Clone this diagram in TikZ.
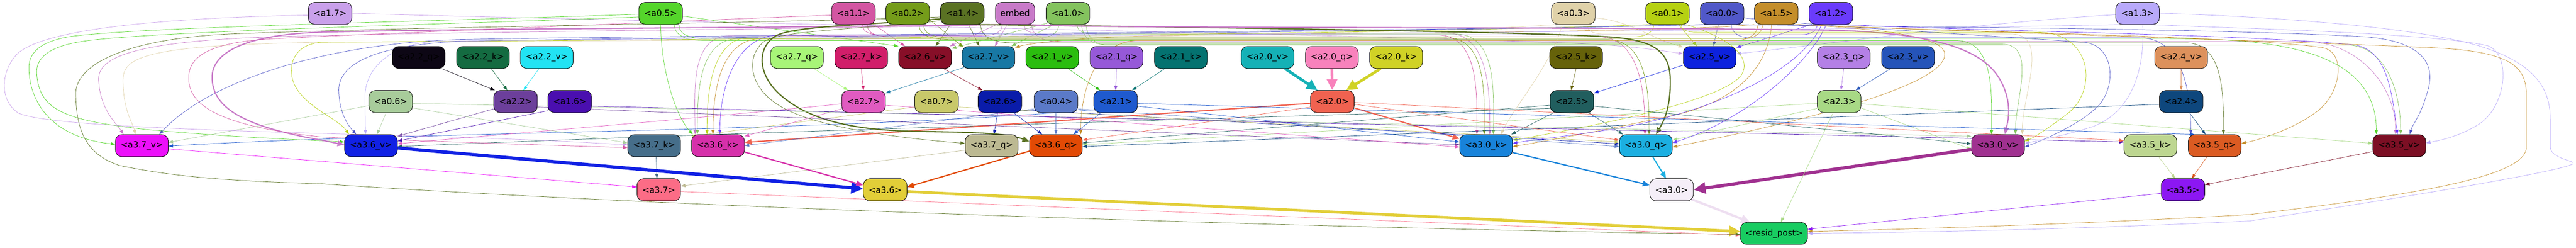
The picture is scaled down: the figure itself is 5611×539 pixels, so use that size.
\documentclass[tikz,border=0pt]{standalone}
\usepackage{fontspec}
\setmainfont{DejaVu Sans}
\usetikzlibrary{arrows.meta}
\pgfdeclarelayer{bg}
\pgfsetlayers{bg,main}
% row 1
\definecolor{a17}{HTML}{C9A0EA}\definecolor{a05}{HTML}{55D52B}\definecolor{a11}{HTML}{D356A2}
\definecolor{a02}{HTML}{759C1A}\definecolor{a14}{HTML}{5A7223}\definecolor{emb}{HTML}{C87AC8}
\definecolor{a10}{HTML}{84C35E}\definecolor{a03}{HTML}{E0D2A9}\definecolor{a01}{HTML}{B6D112}
\definecolor{a00}{HTML}{5158C8}\definecolor{a15}{HTML}{C48E2B}\definecolor{a12}{HTML}{6A3BFB}
\definecolor{a13}{HTML}{B8A9FA}
% row 2
\definecolor{q22}{HTML}{0D0715}\definecolor{k22}{HTML}{146B41}\definecolor{v22}{HTML}{22E3F3}
\definecolor{q27}{HTML}{A8F578}\definecolor{k27}{HTML}{D11E6A}\definecolor{v26}{HTML}{870F28}
\definecolor{v27}{HTML}{1878A4}\definecolor{v21}{HTML}{2BBD0F}\definecolor{q21}{HTML}{9659D8}
\definecolor{k21}{HTML}{047270}\definecolor{v20}{HTML}{15B1B6}\definecolor{q20}{HTML}{F882BC}
\definecolor{k20}{HTML}{D0D226}\definecolor{k25}{HTML}{66620A}\definecolor{v25}{HTML}{0D22DE}
\definecolor{q23}{HTML}{B480E6}\definecolor{v23}{HTML}{2554B9}\definecolor{v24}{HTML}{DD915C}
% row 3
\definecolor{a06}{HTML}{A8CC9B}\definecolor{h22}{HTML}{6C3F9B}\definecolor{a16}{HTML}{4A0FAF}
\definecolor{h27}{HTML}{E05BC0}\definecolor{a07}{HTML}{C8C86A}\definecolor{h26}{HTML}{0A1CAA}
\definecolor{a04}{HTML}{5B7AC8}\definecolor{h21}{HTML}{1F5ACE}\definecolor{h20}{HTML}{F06250}
\definecolor{h25}{HTML}{215E5E}\definecolor{h23}{HTML}{A8D985}\definecolor{h24}{HTML}{0E477D}
% row 4
\definecolor{v37}{HTML}{EC10FA}\definecolor{v36}{HTML}{1121E4}\definecolor{k37}{HTML}{466E8A}
\definecolor{k36}{HTML}{D630AA}\definecolor{q37}{HTML}{BCB992}\definecolor{q36}{HTML}{E24A05}
\definecolor{k30}{HTML}{1883DA}\definecolor{q30}{HTML}{1CAFE1}\definecolor{v30}{HTML}{A03190}
\definecolor{k35}{HTML}{BDD690}\definecolor{q35}{HTML}{DB5B22}\definecolor{v35}{HTML}{7C0F24}
% row 5, 6
\definecolor{h37}{HTML}{FC6C86}\definecolor{h36}{HTML}{E2CE38}\definecolor{h30}{HTML}{F5EEF8}
\definecolor{h30e}{HTML}{EEDFF1}\definecolor{h35}{HTML}{8C17F2}\definecolor{rp}{HTML}{18CC61}
\newcommand\edgeR[6]{\draw[#1] (#2) to[out=-90,in=180] (#3,#4) -- (#5,#4) to[out=0,in=90] (#6);}
\newcommand\edgeL[6]{\draw[#1] (#2) to[out=-90,in=0] (#3,#4) -- (#5,#4) to[out=180,in=90] (#6);}
\begin{document}
\begin{tikzpicture}[x=1pt,y=-1pt,
  nd/.style={draw=black, line width=0.9pt, rounded corners=14pt, minimum height=48pt,
             inner sep=0pt, font=\fontsize{18.5}{20}\selectfont},
  sw/.style={nd, minimum width=95pt},
  lw/.style={nd, minimum width=115pt},
  eA/.style={line width=0.8pt, -{Triangle[length=10pt,width=7pt]}},
  eM/.style={line width=2.6pt, -{Triangle[length=15pt,width=12pt]}},
  eT/.style={line width=6pt, -{Triangle[length=24pt,width=22pt]}},
  eX/.style={line width=7pt, -{Triangle[length=26pt,width=24pt]}}]
\useasboundingbox (0,0) rectangle (5611,539);
% ---------------- nodes
% row 1
\node[sw,fill=a17] (a17) at (719,29) {<a1.7>};
\node[sw,fill=a05] (a05) at (1439,29) {<a0.5>};
\node[sw,fill=a11] (a11) at (1859,29) {<a1.1>};
\node[sw,fill=a02] (a02) at (1977,29) {<a0.2>};
\node[sw,fill=a14] (a14) at (2096,29) {<a1.4>};
\node[nd,minimum width=86pt,fill=emb] (emb) at (2211,29) {embed};
\node[sw,fill=a10] (a10) at (2326,29) {<a1.0>};
\node[sw,fill=a03] (a03) at (3427,29) {<a0.3>};
\node[sw,fill=a01] (a01) at (3632,29) {<a0.1>};
\node[sw,fill=a00] (a00) at (3751,29) {<a0.0>};
\node[sw,fill=a15] (a15) at (3869,29) {<a1.5>};
\node[sw,fill=a12] (a12) at (3988,29) {<a1.2>};
\node[sw,fill=a13] (a13) at (4656,29) {<a1.3>};
% row 2
\node[lw,fill=q22] (q22) at (912,125) {<a2.2\_q>};
\node[lw,fill=k22] (k22) at (1052,125) {<a2.2\_k>};
\node[lw,fill=v22] (v22) at (1191,125) {<a2.2\_v>};
\node[lw,fill=q27] (q27) at (1736,125) {<a2.7\_q>};
\node[lw,fill=k27] (k27) at (1876,125) {<a2.7\_k>};
\node[lw,fill=v26] (v26) at (2015,125) {<a2.6\_v>};
\node[lw,fill=v27] (v27) at (2153,125) {<a2.7\_v>};
\node[lw,fill=v21] (v21) at (2292,125) {<a2.1\_v>};
\node[lw,fill=q21] (q21) at (2432,125) {<a2.1\_q>};
\node[lw,fill=k21] (k21) at (2572,125) {<a2.1\_k>};
\node[lw,fill=v20] (v20) at (2761,125) {<a2.0\_v>};
\node[lw,fill=q20] (q20) at (2901,125) {<a2.0\_q>};
\node[lw,fill=k20] (k20) at (3041,125) {<a2.0\_k>};
\node[lw,fill=k25] (k25) at (3433,125) {<a2.5\_k>};
\node[lw,fill=v25] (v25) at (3724,125) {<a2.5\_v>};
\node[lw,fill=q23] (q23) at (4016,125) {<a2.3\_q>};
\node[lw,fill=v23] (v23) at (4156,125) {<a2.3\_v>};
\node[lw,fill=v24] (v24) at (4751,125) {<a2.4\_v>};
% row 3
\node[sw,fill=a06] (a06) at (851,221) {<a0.6>};
\node[sw,fill=h22] (h22) at (1123,221) {<a2.2>};
\node[sw,fill=a16] (a16) at (1241,221) {<a1.6>};
\node[sw,fill=h27] (h27) at (1881,221) {<a2.7>};
\node[sw,fill=a07] (a07) at (2040,221) {<a0.7>};
\node[sw,fill=h26] (h26) at (2178,221) {<a2.6>};
\node[sw,fill=a04] (a04) at (2300,221) {<a0.4>};
\node[sw,fill=h21] (h21) at (2430,221) {<a2.1>};
\node[sw,fill=h20] (h20) at (2902,221) {<a2.0>};
\node[sw,fill=h25] (h25) at (3424,221) {<a2.5>};
\node[sw,fill=h23] (h23) at (4006,221) {<a2.3>};
\node[sw,fill=h24] (h24) at (4751,221) {<a2.4>};
% row 4
\node[lw,fill=v37] (v37) at (309,317) {<a3.7\_v>};
\node[lw,fill=v36] (v36) at (808,317) {<a3.6\_v>};
\node[lw,fill=k37] (k37) at (1425,317) {<a3.7\_k>};
\node[lw,fill=k36] (k36) at (1564,317) {<a3.6\_k>};
\node[lw,fill=q37] (q37) at (2160,317) {<a3.7\_q>};
\node[lw,fill=q36] (q36) at (2300,317) {<a3.6\_q>};
\node[lw,fill=k30] (k30) at (3237,317) {<a3.0\_k>};
\node[lw,fill=q30] (q30) at (3585,317) {<a3.0\_q>};
\node[lw,fill=v30] (v30) at (4352,317) {<a3.0\_v>};
\node[lw,fill=k35] (k35) at (4684,317) {<a3.5\_k>};
\node[lw,fill=q35] (q35) at (4824,317) {<a3.5\_q>};
\node[lw,fill=v35] (v35) at (5226,317) {<a3.5\_v>};
% row 5
\node[sw,fill=h37] (h37) at (1435,413) {<a3.7>};
\node[sw,fill=h36] (h36) at (1928,413) {<a3.6>};
\node[sw,fill=h30] (h30) at (3641,413) {<a3.0>};
\node[sw,fill=h35] (h35) at (4755,413) {<a3.5>};
% row 6
\node[nd,minimum width=146pt,fill=rp] (rp) at (3864,508) {<resid\_post>};
% ---------------- edges
\begin{pgfonlayer}{bg}
\fill[white] (0,0) rectangle (5611,539);
% row2 -> row3
\draw[eA,draw=q22] ([xshift=50pt]q22.south) -- ([xshift=-45pt]h22.north);
\draw[eA,draw=k22] ([xshift=18pt]k22.south) -- ([xshift=-18pt]h22.north);
\draw[eA,draw=v22] ([xshift=-17pt]v22.south) -- ([xshift=17pt]h22.north);
\draw[eA,draw=q27] ([xshift=37pt]q27.south) -- ([xshift=-34pt]h27.north);
\draw[eA,draw=k27] (k27.south) -- (h27.north);
\draw[eA,draw=v27] ([xshift=-52pt,yshift=3pt]v27.south) -- ([yshift=-6pt]h27.north east);
\draw[eA,draw=v26] ([xshift=40pt]v26.south) -- ([xshift=-38pt]h26.north);
\draw[eA,draw=v21] ([xshift=34pt]v21.south) -- ([xshift=-34pt]h21.north);
\draw[eA,draw=q21] (q21.south) -- (h21.north);
\draw[eA,draw=k21] ([xshift=-35pt]k21.south) -- ([xshift=36pt]h21.north);
\draw[eT,draw=v20] ([xshift=38pt]v20.south) -- ([xshift=-32pt]h20.north);
\draw[eT,draw=q20] (q20.south) -- (h20.north);
\draw[eT,draw=k20] ([xshift=-34pt]k20.south) -- ([xshift=30pt]h20.north);
\draw[eA,draw=k25] (k25.south) -- ([xshift=-2pt]h25.north);
\draw[eA,draw=v25] ([yshift=-17pt]v25.west) -- ([yshift=-6pt]h25.north east);
\draw[eA,draw=q23] (q23.south) -- ([xshift=4pt]h23.north);
\draw[eA,draw=v23] ([xshift=-38pt]v23.south) -- ([xshift=36pt]h23.north);
\draw[eA,draw=v24] (v24.south) -- (h24.north);
% row1 -> row2
\draw[eA,draw=a11] ([xshift=45pt]a11.south) -- ([xshift=-44pt]v26.north);
\draw[eA,draw=a05] ([yshift=-6pt]a05.east) -- ([xshift=-58pt]v26.north);
\draw[eA,draw=a14] ([xshift=-26pt]a14.south) -- ([xshift=23pt]v26.north);
\draw[eA,draw=emb] ([xshift=-40pt]emb.south) -- ([xshift=-4pt]v26.north east);
\draw[eA,draw=a10] ([xshift=-45pt,yshift=3pt]a10.south) -- ([yshift=-5pt]v26.north east);
\draw[eA,draw=a02] ([yshift=-14pt]a02.east) -- ([xshift=3pt,yshift=-2pt]v27.north west);
\draw[eA,draw=a14] ([xshift=14pt]a14.south) -- ([xshift=-20pt]v27.north);
\draw[eA,draw=emb] ([xshift=-17pt]emb.south) -- ([xshift=14pt]v27.north);
\draw[eA,draw=a10] ([xshift=-30pt]a10.south) -- ([xshift=-8pt]v27.north east);
\draw[eA,draw=a15] (a15.south west) .. controls (3600,75) and (2600,70) .. (2400,82) .. controls (2300,88) and (2240,95) .. ([yshift=-3pt]v27.north east);
\draw[eA,draw=a01] ([xshift=24pt]a01.south) -- ([xshift=-28pt]v25.north);
\draw[eA,draw=a00] ([xshift=-8pt]a00.south) -- ([xshift=8pt]v25.north);
\draw[eA,draw=a12] ([xshift=-42pt]a12.south) -- ([yshift=-3pt]v25.north east);
\draw[eA,draw=a03] ([yshift=-10pt]a03.east) .. controls (3550,45) and (3600,85) .. ([yshift=-2pt]v25.north west);
\draw[eA,draw=a17] (a17.east) .. controls (1500,50) and (3000,75) .. (3450,95) .. controls (3550,100) and (3620,110) .. ([yshift=8pt]v25.west);
\draw[eA,draw=a13] ([yshift=-3pt]a13.west) .. controls (4300,50) and (3950,100) .. ([yshift=8pt]v25.east);
% long band edges
\edgeR{eA,draw=emb}{[xshift=20pt]emb.south}{2290}{72}{3150}{[xshift=8pt]k30.north}
\edgeL{eA,draw=emb}{[xshift=-28pt]emb.south}{2130}{78}{1590}{[xshift=-50pt]k36.north}
\edgeR{eA,draw=emb}{[xshift=36pt]emb.south}{2300}{90}{5020}{[xshift=-8pt]v35.north}
\edgeR{eA,draw=a05}{[xshift=30pt]a05.south}{1530}{88}{4260}{[xshift=-14pt]v30.north}
\edgeR{eA,draw=a05}{[xshift=40pt]a05.south}{1545}{84}{4700}{[xshift=-50pt]v35.north}
\edgeR{eA,draw=a11}{[xshift=20pt]a11.south}{1940}{76}{3130}{[xshift=-20pt]k30.north}
\edgeR{eA,draw=a11}{[xshift=30pt]a11.south}{1950}{80}{3480}{[xshift=-2pt]q30.north}
\edgeR{eA,draw=a02}{[xshift=25pt]a02.south}{2070}{86}{3500}{[xshift=7pt]q30.north}
\edgeR{eA,draw=a02}{[xshift=35pt]a02.south}{2080}{82}{3150}{[xshift=-4pt]k30.north}
\edgeR{eA,draw=a14}{[xshift=40pt]a14.south}{2200}{93}{4760}{[xshift=19pt]q35.north}
\edgeL{eA,draw=a10}{[xshift=-20pt]a10.south}{2250}{84}{1610}{[xshift=-45pt]k36.north}
\edgeR{eA,draw=a10}{[xshift=20pt]a10.south}{2390}{74}{3170}{[xshift=16pt]k30.north}
\edgeR{eA,draw=a10}{[xshift=30pt]a10.south}{2400}{96}{4360}{[xshift=38pt]v30.north}
\edgeR{eA,draw=a10}{[xshift=40pt]a10.south}{2410}{98}{5110}{[xshift=3pt]v35.north}
\edgeR{eA,draw=a03}{[xshift=30pt]a03.south}{3490}{74}{4380}{[xshift=-5pt]v30.north east}
\edgeL{eA,draw=a01}{[xshift=-30pt]a01.south}{3560}{80}{1640}{[xshift=-24pt]k36.north}
\edgeR{eA,draw=a00}{[xshift=20pt]a00.south}{3810}{82}{4660}{[xshift=-52pt]q35.north}
\edgeL{eA,draw=a15}{[xshift=-30pt]a15.south}{3800}{84}{1660}{[xshift=-11pt]k36.north}
\edgeL{eA,draw=a15}{[xshift=-40pt]a15.south}{3780}{88}{2480}{[xshift=-4pt]q36.north east}
\edgeL{eA,draw=a12}{[xshift=-30pt]a12.south}{3920}{76}{1700}{[xshift=4pt]k36.north}
% a3.7_v inputs
\draw[eA,draw=emb] ([xshift=-38pt]emb.south) .. controls (1800,64) and (1000,68) .. (600,80) .. controls (270,90) and (212,130) .. (215,175) .. controls (218,240) and (255,270) .. ([xshift=-40pt]v37.north);
\draw[eA,draw=a03] ([xshift=-40pt]a03.south) .. controls (3000,82) and (1500,88) .. (700,92) .. controls (310,98) and (268,125) .. (268,175) .. controls (268,240) and (290,270) .. ([xshift=-14pt]v37.north);
\draw[eA,draw=a00] ([xshift=-35pt]a00.south) .. controls (3000,70) and (1500,76) .. (1000,86) .. controls (700,95) and (450,180) .. ([xshift=38pt]v37.north);
\draw[eA,draw=a05] ([yshift=-2pt]a05.west) .. controls (1000,45) and (300,58) .. (150,80) .. controls (80,92) and (62,120) .. (63,150) .. controls (65,230) and (120,300) .. ([yshift=3pt]v37.west);
\draw[eA,draw=a06] ([yshift=-9pt]a06.west) -- ([yshift=7pt]v37.east);
\draw[eA,draw=h21] ([yshift=-18pt]h21.west) .. controls (1800,288) and (900,286) .. ([yshift=-1pt]v37.east);
% a3.6_v inputs
\draw[eA,draw=a01] ([xshift=-40pt]a01.south) .. controls (3000,76) and (1500,86) .. (700,92) .. controls (648,96) and (632,130) .. (635,160) .. controls (640,225) and (735,255) .. ([xshift=-48pt]v36.north);
\draw[eA,draw=a00] ([xshift=-30pt]a00.south) .. controls (3000,72) and (1400,80) .. (1000,90) .. controls (790,100) and (735,150) .. (738,200) .. controls (740,250) and (760,275) .. ([xshift=-32pt]v36.north);
\draw[eA,draw=a13] ([xshift=-40pt]a13.south) .. controls (4000,68) and (1500,82) .. (950,90) .. controls (850,95) and (795,150) .. (795,210) -- ([xshift=-12pt]v36.north);
\draw[eA,draw=a06] ([xshift=-10pt]a06.south) -- ([xshift=13pt]v36.north);
\draw[eA,draw=h22] ([yshift=-16pt]h22.west) -- ([yshift=-4pt]v36.north east);
\draw[eA,draw=a16] ([yshift=-20pt]a16.west) -- ([yshift=10pt]v36.east);
\draw[eA,draw=h27] ([yshift=-5pt]h27.west) .. controls (1500,260) and (1000,300) .. ([yshift=4pt]v36.east);
\draw[eA,draw=h25] ([yshift=-15pt]h25.west) .. controls (2500,262) and (1500,292) .. ([yshift=-2pt]v36.east);
\draw[eA,draw=a05] ([yshift=-8pt]a05.west) .. controls (1000,52) and (320,68) .. (180,90) .. controls (100,102) and (78,130) .. (80,160) .. controls (85,240) and (140,262) .. (320,282) .. controls (520,300) and (660,304) .. ([yshift=8pt]v36.west);
\draw[eM,draw=emb] ([xshift=-34pt]emb.south) .. controls (1800,60) and (1000,62) .. (700,70) .. controls (520,76) and (462,120) .. (462,168) .. controls (462,235) and (530,275) .. (700,305) -- ([yshift=2pt]v36.west);
% a3.7_k / a3.6_k inputs
\draw[eA,draw=a17] ([yshift=-4pt]a17.west) .. controls (300,40) and (80,70) .. (35,120) .. controls (0,160) and (0,220) .. (40,246) .. controls (100,275) and (500,285) .. (900,296) .. controls (1200,304) and (1300,312) .. ([yshift=2pt]k37.west);
\draw[eA,draw=a11] ([yshift=-4pt]a11.west) .. controls (1500,45) and (900,70) .. (600,84) .. controls (440,92) and (410,130) .. (411,172) .. controls (412,230) and (480,275) .. (700,298) .. controls (1000,310) and (1250,318) .. ([yshift=-4pt]k37.west);
\draw[eA,draw=a06] ([yshift=-14pt]a06.east) -- ([yshift=6pt]k37.west);
\draw[eA,draw=a05] (a05.south) .. controls (1440,150) and (1470,250) .. ([xshift=-55pt]k36.north);
\draw[eA,draw=a07] ([yshift=-12pt]a07.west) -- ([yshift=-4pt]k36.north west);
\draw[eA,draw=h27] ([yshift=-16pt]h27.west) -- ([yshift=-4pt]k36.north east);
\draw[eM,draw=h20] ([yshift=-4pt]h20.west) -- ([yshift=7pt]k36.east);
\draw[eA,draw=a04] ([yshift=-16pt]a04.west) -- (k36.east);
% a3.7_q / a3.6_q inputs
\draw[eA,draw=h26] ([xshift=-5pt]h26.south) -- ([xshift=5pt]q37.north);
\draw[eA,draw=h26] ([xshift=30pt]h26.south) -- ([xshift=-30pt]q36.north);
\draw[eA,draw=a14] ([yshift=-16pt]a14.west) .. controls (1900,62) and (1700,66) .. (1665,90) .. controls (1625,120) and (1630,185) .. (1690,225) .. controls (1760,275) and (1950,300) .. ([yshift=5pt]q37.west);
\draw[eM,draw=a14] ([yshift=-12pt]a14.west) .. controls (1900,54) and (1730,56) .. (1690,78) .. controls (1645,105) and (1650,170) .. (1710,215) .. controls (1770,262) and (1860,284) .. (2000,286) .. controls (2150,288) and (2200,292) .. ([yshift=9pt]q36.west);
\draw[eA,draw=a04] (a04.south) -- (q36.north);
\draw[eA,draw=h21] ([xshift=-32pt]h21.south) -- ([xshift=38pt]q36.north);
\draw[eA,draw=h20] ([yshift=-12pt]h20.west) -- ([yshift=12pt]q36.east);
\draw[eA,draw=h25] ([yshift=-8pt]h25.west) -- ([yshift=6pt]q36.east);
\draw[eA,draw=h23] ([yshift=-4pt]h23.west) -- ([yshift=2pt]q36.east);
\draw[eA,draw=h24] ([yshift=-6pt]h24.west) -- ([yshift=-2pt]q36.east);
% a3.0_k inputs
\draw[eM,draw=h20] ([yshift=-14pt]h20.east) -- ([yshift=15pt]k30.west);
\draw[eA,draw=h21] ([yshift=-10pt]h21.east) -- ([yshift=8pt]k30.west);
\draw[eA,draw=h22] ([yshift=-12pt]h22.east) -- ([yshift=2pt]k30.west);
\draw[eA,draw=h27] ([yshift=-8pt]h27.east) -- ([yshift=-3pt]k30.west);
\draw[eA,draw=h25] ([xshift=-40pt]h25.south) -- ([xshift=55pt]k30.north);
\draw[eA,draw=a03] ([xshift=-24pt]a03.south) .. controls (3380,140) and (3300,230) .. ([xshift=32pt]k30.north);
\draw[eA,draw=a01] ([xshift=40pt]a01.south) .. controls (3760,80) and (3815,120) .. (3795,160) .. controls (3765,215) and (3500,270) .. ([yshift=12pt]k30.east);
\draw[eA,draw=a15] ([xshift=-10pt]a15.south) .. controls (3850,150) and (3780,220) .. (3650,250) .. controls (3500,282) and (3380,305) .. ([yshift=-2pt]k30.east);
\draw[eA,draw=a12] ([xshift=-20pt]a12.south) .. controls (3920,160) and (3720,245) .. (3520,280) .. controls (3420,296) and (3340,304) .. ([yshift=5pt]k30.east);
% a3.0_q inputs
\draw[eM,draw=a14] ([xshift=35pt]a14.south) .. controls (2500,58) and (3300,68) .. (3500,80) .. controls (3600,86) and (3636,110) .. (3638,170) .. controls (3640,240) and (3620,270) .. ([xshift=22pt]q30.north);
\draw[eA,draw=h26] ([yshift=-18pt]h26.east) -- ([yshift=4pt]q30.west);
\draw[eA,draw=h25] ([xshift=36pt]h25.south) -- ([xshift=-50pt]q30.north);
\draw[eA,draw=h20] ([yshift=-6pt]h20.east) -- ([yshift=12pt]q30.west);
\draw[eA,draw=a04] ([yshift=-16pt]a04.east) -- ([yshift=-2pt]q30.west);
\draw[eA,draw=a07] ([yshift=-12pt]a07.east) -- ([yshift=8pt]q30.west);
\draw[eA,draw=h23] ([yshift=-15pt]h23.west) -- ([yshift=12pt]q30.east);
\draw[eA,draw=a12] ([xshift=-10pt]a12.south) .. controls (3940,140) and (3800,262) .. ([yshift=6pt]q30.east);
\draw[eA,draw=a15] ([xshift=40pt]a15.south) .. controls (4100,62) and (4240,80) .. (4236,120) .. controls (4230,200) and (3800,290) .. ([yshift=-3pt]q30.east);
% a3.0_v inputs
\draw[eM,draw=emb] ([xshift=30pt]emb.south) .. controls (2300,62) and (3500,58) .. (4000,66) .. controls (4250,74) and (4330,120) .. (4360,180) .. controls (4385,230) and (4372,270) .. ([xshift=15pt]v30.north);
\draw[eA,draw=a06] ([yshift=-4pt]a06.east) -- ([yshift=-4pt]v30.north west);
\draw[eA,draw=h25] ([yshift=-10pt]h25.east) -- ([yshift=4pt]v30.west);
\draw[eA,draw=h23] ([yshift=-14pt]h23.east) -- ([yshift=-8pt]v30.west);
\draw[eA,draw=a01] ([xshift=30pt]a01.south) to[out=-90,in=180] (3700,70) -- (4440,70) .. controls (4560,72) and (4570,200) .. (4500,250) .. controls (4460,280) and (4430,300) .. ([yshift=10pt]v30.east);
\draw[eA,draw=a00] ([yshift=-10pt]a00.east) .. controls (4000,60) and (4300,75) .. (4540,92) .. controls (4610,100) and (4612,200) .. (4560,240) .. controls (4520,275) and (4450,305) .. ([yshift=-3pt]v30.east);
\draw[eA,draw=a13] ([xshift=11pt]a13.south) .. controls (4672,140) and (4650,240) .. (4560,275) .. controls (4500,295) and (4440,305) .. ([yshift=4pt]v30.east);
% a3.5_* inputs
\draw[eA,draw=a16] ([yshift=-10pt]a16.east) -- ([yshift=8pt]k35.west);
\draw[eA,draw=h20] ([yshift=-2pt]h20.east) -- ([yshift=11pt]k35.west);
\draw[eA,draw=h24] ([xshift=18pt]h24.south) -- ([xshift=-20pt]q35.north);
\draw[eA,draw=h21] ([yshift=-4pt]h21.east) -- ([xshift=-44pt]q35.north);
\draw[eA,draw=a15] ([xshift=45pt]a15.south) .. controls (4200,68) and (4900,78) .. (5060,104) .. controls (5110,114) and (5100,200) .. (5050,240) .. controls (5000,280) and (4920,305) .. ([yshift=5pt]q35.east);
\draw[eA,draw=a00] ([xshift=30pt]a00.south) .. controls (4000,58) and (4800,60) .. (5150,80) .. controls (5290,90) and (5300,150) .. (5290,190) .. controls (5275,250) and (5255,270) .. ([xshift=23pt]v35.north);
\draw[eA,draw=a12] ([xshift=30pt]a12.south) .. controls (4300,68) and (4900,74) .. (5130,98) .. controls (5200,110) and (5210,200) .. ([xshift=-4pt]v35.north);
\draw[eA,draw=a13] ([xshift=30pt]a13.south) .. controls (4800,60) and (5300,70) .. (5420,100) .. controls (5470,120) and (5460,230) .. (5400,270) .. controls (5360,295) and (5320,305) .. ([yshift=6pt]v35.east);
\draw[eA,draw=h23] ([yshift=-5pt]h23.east) -- ([yshift=5pt]v35.west);
% row4 -> row5
\draw[eA,draw=v37] ([yshift=-7pt]v37.east) -- ([yshift=6pt]h37.west);
\draw[eA,draw=k37] ([xshift=4pt]k37.south) -- ([xshift=-4pt]h37.north);
\draw[eA,draw=q37] ([yshift=-10pt]q37.west) -- ([yshift=8pt]h37.east);
\draw[eX,draw=v36] ([yshift=-5pt]v36.east) -- ([yshift=2pt]h36.west);
\draw[eM,draw=k36] ([yshift=-14pt]k36.east) -- ([yshift=10pt]h36.west);
\draw[eM,draw=q36] ([yshift=-12pt]q36.west) -- ([yshift=6pt]h36.east);
\draw[eM,draw=k30] ([yshift=-15pt]k30.east) -- ([yshift=10pt]h30.west);
\draw[eM,draw=q30] ([xshift=15pt]q30.south) -- ([xshift=-12pt]h30.north);
\draw[eX,draw=v30] ([yshift=-8pt]v30.west) -- (h30.east);
\draw[eA,draw=k35] ([xshift=18pt]k35.south) -- ([xshift=-17pt]h35.north);
\draw[eA,draw=q35] ([xshift=-17pt]q35.south) -- ([xshift=19pt]h35.north);
\draw[eA,draw=v35] ([yshift=-13pt]v35.west) -- ([yshift=11pt]h35.east);
% -> resid_post
\draw[eT,draw=h36] ([yshift=-4pt]h36.east) -- ([yshift=4pt]rp.west);
\draw[eA,draw=h37] ([yshift=-4pt]h37.east) -- ([yshift=-4pt]rp.west);
\draw[line width=5pt,-{Triangle[length=20pt,width=18pt]},draw=h30e] ([xshift=-5pt,yshift=4pt]h30.south east) -- ([xshift=-52pt]rp.north);
\draw[eA,draw=h35] ([yshift=-8pt]h35.west) -- ([yshift=9pt]rp.east);
\draw[eA,draw=h23] ([xshift=-13pt]h23.south) -- ([xshift=15pt]rp.north);
\draw[eA,draw=a14] ([yshift=-8pt]a14.west) .. controls (1700,50) and (900,58) .. (500,74) .. controls (250,86) and (162,150) .. (165,206) .. controls (166,300) and (200,340) .. (260,360) .. controls (400,390) and (550,395) .. (700,400) .. controls (1500,455) and (3000,500) .. ([yshift=-2pt]rp.west);
\draw[eA,draw=a15] (a15.south east) .. controls (4300,70) and (5000,90) .. (5300,104) .. controls (5480,112) and (5503,150) .. (5503,210) -- (5503,320) .. controls (5503,380) and (5300,420) .. (4900,467) .. controls (4500,490) and (4100,500) .. ([yshift=4pt]rp.east);
\draw[eA,draw=a13] (a13.east) .. controls (4900,34) and (5250,55) .. (5400,100) .. controls (5530,140) and (5555,200) .. (5555,260) -- (5555,320) .. controls (5555,345) and (5610,350) .. (5605,356) .. controls (5590,370) and (5300,420) .. (4900,481) .. controls (4500,500) and (4200,505) .. (rp.east);
\end{pgfonlayer}
\end{tikzpicture}
\end{document}
